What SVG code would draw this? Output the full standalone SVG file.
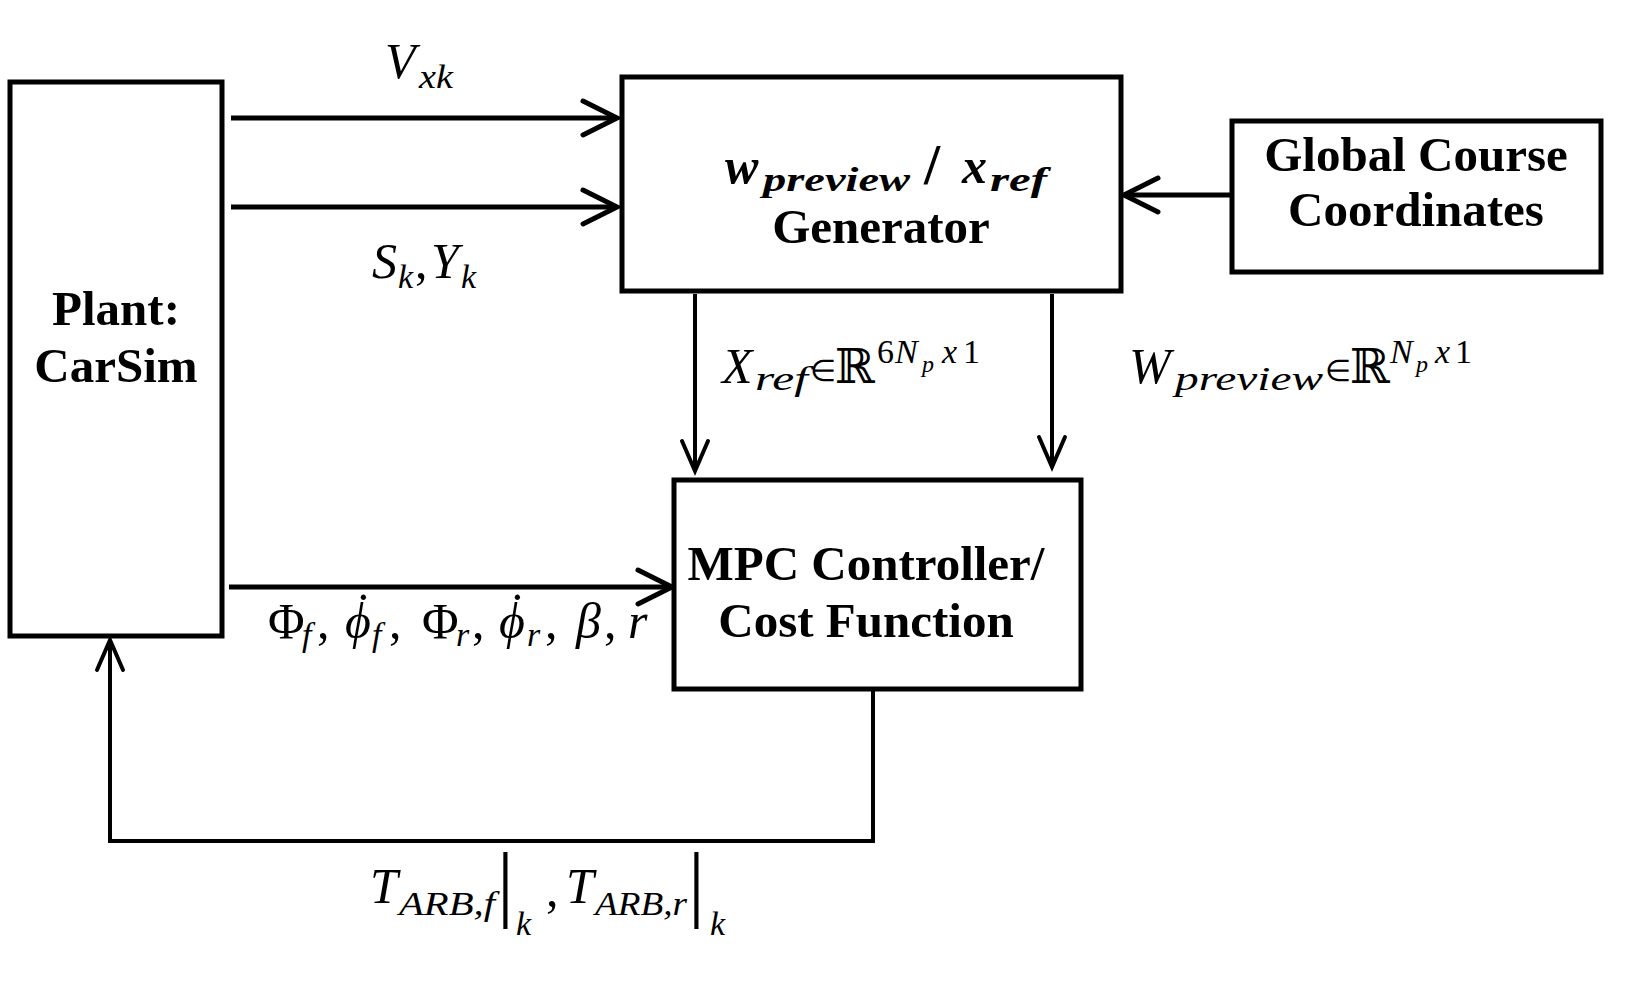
<svg xmlns="http://www.w3.org/2000/svg" width="1647" height="994" viewBox="0 0 1647 994">
<style>
.box{fill:#fff;stroke:#000;stroke-width:5}
.lbl{font-family:"Liberation Serif","Times New Roman",serif;font-weight:bold;font-size:49px;fill:#000;text-anchor:middle}
.m{font-family:"Liberation Serif","Times New Roman",serif;font-style:italic;fill:#000}
.big{font-size:50px}
.sub{font-size:34px}
.ssub{font-size:24px}
.up{font-style:normal}
.bb{font-family:"DejaVu Serif","DejaVu Sans",serif;font-style:normal;font-size:48px}
.el{font-size:30px;font-style:normal}
.bi{font-weight:bold}
.bar{font-size:84px;font-style:normal}
.dot{font-style:normal}
.conn{fill:none;stroke:#000;stroke-width:5}
.thin{stroke-width:4}
</style>
<defs>
<marker id="ah" markerUnits="userSpaceOnUse" viewBox="-40 -22 46 44" markerWidth="46" markerHeight="44" refX="0" refY="0" orient="auto">
<path d="M-34,-17 L0,0 L-34,17" fill="none" stroke="#000" stroke-width="5" stroke-linecap="round"/>
</marker>
<marker id="ah2" markerUnits="userSpaceOnUse" viewBox="-36 -18 42 36" markerWidth="42" markerHeight="36" refX="0" refY="0" orient="auto">
<path d="M-30,-13 L0,0 L-30,13" fill="none" stroke="#000" stroke-width="4" stroke-linecap="round"/>
</marker>
</defs>
<rect width="1647" height="994" fill="#fff"/>

<g id="connectors">
<path class="conn" d="M231,118 H617" marker-end="url(#ah)"/>
<path class="conn" d="M231,207 H617" marker-end="url(#ah)"/>
<path class="conn" d="M1232,195 H1124" marker-end="url(#ah)"/>
<path class="conn thin" d="M695,294 V471" marker-end="url(#ah2)"/>
<path class="conn thin" d="M1052,294 V467" marker-end="url(#ah2)"/>
<path class="conn" d="M229,587 H672" marker-end="url(#ah)"/>
<path class="conn thin" d="M873,689 V841 H110 V640" marker-end="url(#ah2)"/>
</g>

<g id="plant">
<rect class="box" x="10" y="82" width="212" height="554"/>
<text class="lbl" x="116" y="325">Plant:</text>
<text class="lbl" x="116" y="382">CarSim</text>
</g>

<g id="generator">
<rect class="box" x="622" y="77" width="499" height="214"/>
<text class="m bi big" x="725" y="183">w</text>
<text class="m bi sub" x="763" y="191" textLength="147" lengthAdjust="spacingAndGlyphs">preview</text>
<text class="m bi up" x="924" y="184" style="font-size:58px">/</text>
<text class="m bi big" x="962" y="183">x</text>
<text class="m bi sub" x="990" y="191" textLength="57" lengthAdjust="spacingAndGlyphs">ref</text>
<text class="lbl" x="881" y="243">Generator</text>
</g>

<g id="global">
<rect class="box" x="1232" y="121" width="369" height="151"/>
<text class="lbl" x="1416" y="171">Global Course</text>
<text class="lbl" x="1416" y="226">Coordinates</text>
</g>

<g id="mpc">
<rect class="box" x="674" y="480" width="407" height="209"/>
<text class="lbl" x="866" y="580">MPC Controller/</text>
<text class="lbl" x="866" y="637">Cost Function</text>
</g>

<g id="label-vxk">
<text class="m big" x="385" y="78">V</text>
<text class="m sub" x="419" y="88" textLength="34" lengthAdjust="spacingAndGlyphs">xk</text>
</g>

<g id="label-sk-yk">
<text class="m big" x="372" y="278">S</text>
<text class="m sub" x="398" y="288">k</text>
<text class="m big up" x="415" y="278">,</text>
<text class="m big" x="431" y="278">Y</text>
<text class="m sub" x="461" y="288">k</text>
</g>

<g id="label-xref">
<text class="m big" x="722" y="383">X</text>
<text class="m sub" x="755" y="390" textLength="53" lengthAdjust="spacingAndGlyphs">ref</text>
<text class="m el" x="810" y="381">∈</text>
<text class="m bb" x="835" y="383">ℝ</text>
<text class="m sub up" x="877" y="363">6</text>
<text class="m sub" x="895" y="363">N</text>
<text class="m ssub" x="922" y="372">p</text>
<text class="m sub" x="942" y="363">x</text>
<text class="m sub up" x="963" y="363">1</text>
</g>

<g id="label-wpreview">
<text class="m big" x="1129" y="383">W</text>
<text class="m sub" x="1175" y="390" textLength="148" lengthAdjust="spacingAndGlyphs">preview</text>
<text class="m el" x="1325" y="381">∈</text>
<text class="m bb" x="1350" y="383">ℝ</text>
<text class="m sub" x="1390" y="363">N</text>
<text class="m ssub" x="1416" y="372">p</text>
<text class="m sub" x="1435" y="363">x</text>
<text class="m sub up" x="1455" y="363">1</text>
</g>

<g id="label-states">
<text class="m big up" x="268" y="638">Φ</text>
<text class="m sub" x="302" y="646">f</text>
<text class="m big up" x="317" y="638">,</text>
<text class="m big"><tspan x="345" y="638">ϕ</tspan><tspan class="dot" x="355" y="628">˙</tspan><tspan class="sub" x="372" y="646">f</tspan></text>
<text class="m big up" x="389" y="638">,</text>
<text class="m big up" x="422" y="638">Φ</text>
<text class="m sub" x="456" y="646">r</text>
<text class="m big up" x="472" y="638">,</text>
<text class="m big"><tspan x="499" y="638">ϕ</tspan><tspan class="dot" x="509" y="628">˙</tspan><tspan class="sub" x="527" y="646">r</tspan></text>
<text class="m big up" x="545" y="638">,</text>
<text class="m big" x="576" y="638">β</text>
<text class="m big up" x="604" y="638">,</text>
<text class="m big" x="628" y="638">r</text>
</g>

<g id="label-torque">
<text class="m big" x="370" y="903">T</text>
<text class="m sub" x="399" y="915" textLength="96" lengthAdjust="spacingAndGlyphs">ARB,f</text>
<text class="m bar" x="497" y="911">|</text>
<text class="m sub" x="516" y="935">k</text>
<text class="m big up" x="546" y="906">,</text>
<text class="m big" x="566" y="903">T</text>
<text class="m sub" x="595" y="915" textLength="92" lengthAdjust="spacingAndGlyphs">ARB,r</text>
<text class="m bar" x="688" y="911">|</text>
<text class="m sub" x="710" y="935">k</text>
</g>
</svg>
